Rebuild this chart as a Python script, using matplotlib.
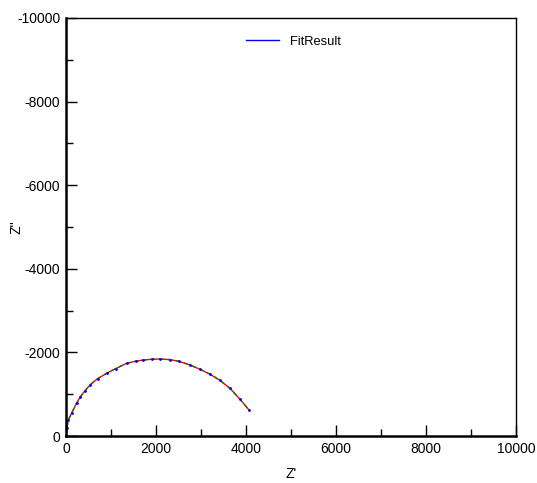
import numpy as np
import matplotlib
matplotlib.use("Agg")
import matplotlib.pyplot as plt
from matplotlib.ticker import MultipleLocator

plt.rcParams['font.family'] = ['Liberation Sans', 'DejaVu Sans']
plt.rcParams['axes.unicode_minus'] = False

# Nyquist data (Z' , -Z'')
z_re = [0, 20, 52, 126, 237, 311, 420, 533, 700, 904, 1100, 1348, 1550, 1718,
        1900, 2089, 2300, 2500, 2756, 2978, 3200, 3422, 3644, 3867, 4067]
z_im = [0, 200, 383, 550, 789, 925, 1080, 1220, 1370, 1500, 1610, 1739, 1790,
        1818, 1835, 1842, 1828, 1790, 1699, 1595, 1480, 1330, 1140, 880, 622]

zr = np.array(z_re, dtype=float)
zi = -np.array(z_im, dtype=float)

fig = plt.figure(figsize=(5.37, 4.83), dpi=100)
ax = fig.add_axes([66 / 537, 47 / 483, 450 / 537, 418 / 483])

ax.plot(zr, zi, color='red', lw=1.0)
ax.plot(zr, zi, color='green', lw=1.0, dashes=(3, 3))
ax.plot(zr, zi, color='blue', lw=0, marker='o', ms=1.0)
ax.plot([], [], color='blue', lw=1, label='FitResult')

ax.set_xlim(0, 10000)
ax.set_ylim(0, -10000)
ax.xaxis.set_major_locator(MultipleLocator(2000))
ax.xaxis.set_minor_locator(MultipleLocator(1000))
ax.yaxis.set_major_locator(MultipleLocator(2000))
ax.yaxis.set_minor_locator(MultipleLocator(1000))
ax.tick_params(which='major', direction='in', length=8, width=1, labelsize=10, pad=4)
ax.tick_params(which='minor', direction='in', length=5, width=1)

ax.spines['left'].set_linewidth(1.8)
ax.spines['bottom'].set_linewidth(1.8)
ax.spines['top'].set_linewidth(1)
ax.spines['right'].set_linewidth(1)

ax.set_xlabel("Z'", fontsize=10)
ax.set_ylabel("Z''", fontsize=10)
ax.xaxis.set_label_coords(0.5, -0.075)
ax.yaxis.set_label_coords(-0.095, 0.5)

ax.legend(loc='upper center', bbox_to_anchor=(0.505, 0.985), frameon=False,
          fontsize=9.3, handlelength=2.6)

fig.savefig('out.png', dpi=100)
